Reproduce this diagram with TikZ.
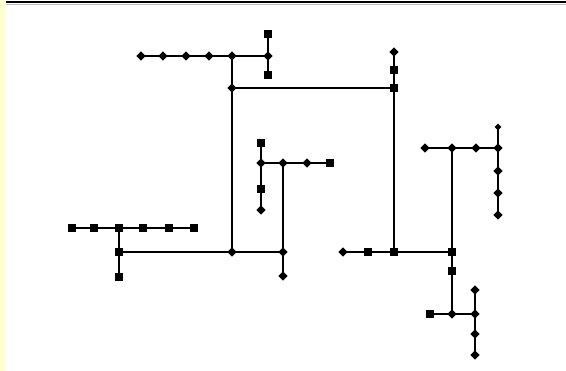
\documentclass[tikz,border=0pt]{standalone}
\usetikzlibrary{shapes.geometric}
\definecolor{strip}{RGB}{255,255,212}
\begin{document}
\begin{tikzpicture}[x=1pt,y=-1pt,
  sq/.style={rectangle,fill=black,draw=none,minimum size=7.5pt,inner sep=0pt},
  dm/.style={diamond,fill=black,draw=none,minimum size=9.5pt,inner sep=0pt},
  sm/.style={diamond,fill=black,draw=none,minimum size=7pt,inner sep=0pt},
  wire/.style={line width=1.3pt,black}]
\useasboundingbox (0,0) rectangle (566,371);
\fill[white] (0,0) rectangle (566,371);
\fill[strip] (0,0) rectangle (6,371);
\coordinate (tl) at (6,2);
\coordinate (tr) at (566,2);
\draw[line width=2.6pt,black] (tl) -- (tr);
\draw[line width=1pt,black!25] ([yshift=-2.2pt]tl) -- ([yshift=-2.2pt]tr);
% top group
\node[dm] (t1) at (141,56) {};
\node[dm] (t2) at (163,56) {};
\node[dm] (t3) at (186,56) {};
\node[dm] (t4) at (209,56) {};
\node[dm] (t5) at (232,56) {};
\node[dm] (t6) at (268,56) {};
\node[sq] (t7) at (268,34) {};
\node[sq] (t8) at (268,75) {};
\node[dm] (t9) at (232,88) {};
% middle group
\node[sq] (m1) at (261,143) {};
\node[dm] (m2) at (261,163) {};
\node[sq] (m3) at (261,189) {};
\node[dm] (m4) at (261,210) {};
\node[dm] (m5) at (283,163) {};
\node[dm] (m6) at (307,163) {};
\node[sq] (m7) at (330,163) {};
\node[dm] (m8) at (283,252) {};
\node[dm] (m9) at (283,276) {};
% left group
\node[sq] (l1) at (72,228) {};
\node[sq] (l2) at (94,228) {};
\node[sq] (l3) at (119,228) {};
\node[sq] (l4) at (143,228) {};
\node[sq] (l5) at (169,228) {};
\node[sq] (l6) at (194,228) {};
\node[sq] (l7) at (119,252) {};
\node[sq] (l8) at (119,277) {};
\node[dm] (l9) at (232,252) {};
% right column
\node[dm] (r1) at (394,52) {};
\node[sq] (r2) at (394,70) {};
\node[sq] (r3) at (394,88) {};
\node[dm] (r4) at (343,252) {};
\node[sq] (r5) at (368,252) {};
\node[sq] (r6) at (394,252) {};
% right group
\node[dm] (g1) at (425,148) {};
\node[dm] (g2) at (452,148) {};
\node[dm] (g3) at (476,148) {};
\node[dm] (g4) at (498,148) {};
\node[sm] (g5) at (498,127) {};
\node[dm] (g6) at (498,171) {};
\node[dm] (g7) at (498,193) {};
\node[dm] (g8) at (498,215) {};
% bottom right
\node[sq] (b1) at (452,252) {};
\node[sq] (b2) at (452,271) {};
\node[dm] (b3) at (452,314) {};
\node[sq] (b4) at (430,314) {};
\node[dm] (b5) at (475,290) {};
\node[dm] (b6) at (475,314) {};
\node[dm] (b7) at (475,334) {};
\node[dm] (b8) at (475,355) {};
% wires
\draw[wire] (t1.center) -- (t6.center);
\draw[wire] (t7.center) -- (t8.center);
\draw[wire] (t5.center) -- (l9.center);
\draw[wire] (t9.center) -- (r3.center);
\draw[wire] (m1.center) -- (m4.center);
\draw[wire] (m2.center) -- (m7.center);
\draw[wire] (m5.center) -- (m9.center);
\draw[wire] (l1.center) -- (l6.center);
\draw[wire] (l3.center) -- (l8.center);
\draw[wire] (l7.center) -- (m8.center);
\draw[wire] (r1.center) -- (r6.center);
\draw[wire] (r4.center) -- (b1.center);
\draw[wire] (g1.center) -- (g4.center);
\draw[wire] (g5.center) -- (g8.center);
\draw[wire] (g2.center) -- (b3.center);
\draw[wire] (b4.center) -- (b6.center);
\draw[wire] (b5.center) -- (b8.center);
\end{tikzpicture}
\end{document}
